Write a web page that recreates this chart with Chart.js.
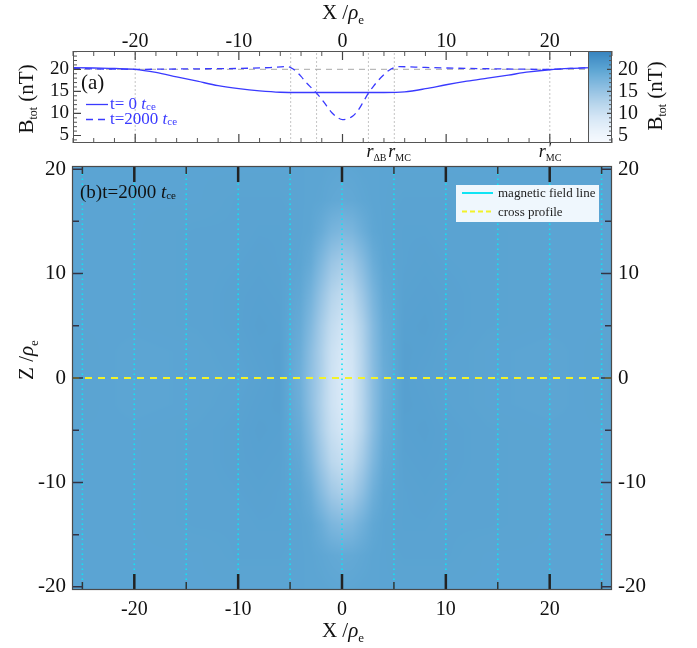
<!DOCTYPE html>
<html><head><meta charset="utf-8">
<script src="https://cdn.jsdelivr.net/npm/chart.js@4.4.1/dist/chart.umd.min.js"></script>
<style>
html,body{margin:0;padding:0;background:#fff;}
#wrap{position:relative;width:697px;height:648px;overflow:hidden;}
canvas{position:absolute;left:0;top:0;}
</style></head><body>
<div id="wrap"><canvas id="c2" width="697" height="648"></canvas><canvas id="c1" width="697" height="648"></canvas></div>
<script>
// ---------------- DATA ----------------
const xTickLabels = [-20, -10, 0, 10, 20];
const bTickLabels = [5, 10, 15, 20];
const zTickLabels = [-20, -10, 0, 10, 20];

// panel (a): |B| profile along the cross line at t = 0
const t0X = [-26, -24, -22, -20, -18, -16, -14, -12, -10, -8, -6, -4, -2, 0, 2, 4, 6, 8, 10, 12, 14, 16, 18, 20, 22, 24];
const t0B = [20.4, 20.3, 20.2, 20.0, 19.3, 18.3, 17.3, 16.3, 15.6, 15.1, 14.8, 14.75, 14.75, 14.75, 14.75, 14.75, 14.9, 15.6, 16.5, 17.3, 18.0, 18.7, 19.4, 19.9, 20.2, 20.4];
// panel (a): |B| profile at t = 2000
const t2kX = [-26, -24, -22, -20, -15, -10, -7, -5.5, -5, -4.5, -4, -3.5, -3, -2.5, -2, -1.5, -1, -0.5, 0, 0.5, 1, 1.5, 2, 2.5, 3, 3.5, 4, 4.5, 5, 5.5, 7, 10, 15, 20, 22, 24];
const t2kB = [20.2, 20.1, 20.05, 20.0, 20.1, 20.2, 20.4, 20.6, 20.4, 19.6, 18.4, 17.0, 15.8, 14.6, 13.2, 11.6, 10.1, 9.1, 8.6, 8.8, 9.4, 10.7, 12.6, 14.6, 16.2, 17.6, 18.8, 19.8, 20.4, 20.6, 20.5, 20.3, 20.1, 20.0, 20.2, 20.4];
const refB = 20;                                   // reference level
const markerX = [-20, -5, -2.5, 2.5, 5, 20];      // r'MC, rMC, rΔB positions

// panel (b): field lines and cross profile
const fieldLineX = [-25, -20, -15, -10, -5, 0, 5, 10, 15, 20, 25];
const crossZ = 0;

// panel (b): |B| map (rows = hmZ, columns = hmX)
const hmX = [-26, -20, -14, -10, -8, -6, -4, -3, -2, -1, 0, 1, 2, 3, 4, 6, 8, 10, 14, 20, 26];
const hmZ = [-20, -17, -14, -11, -8, -5, -2.5, 0, 2.5, 5, 8, 11, 14, 17, 20];
const hmB = [
 [20.1,20.1,20.1,20.1,20.1,20.1,20.1,20.0,20.0,19.9,19.8,19.9,20.0,20.0,20.1,20.1,20.1,20.1,20.1,20.1,20.1],
 [20.1,20.1,20.1,20.2,20.2,20.2,20.1,20.0,19.8,19.5,19.3,19.4,19.7,20.0,20.1,20.2,20.2,20.2,20.1,20.1,20.1],
 [20.1,20.1,20.2,20.2,20.3,20.3,20.1,19.8,18.8,17.4,16.8,17.2,18.4,19.6,20.1,20.3,20.3,20.2,20.2,20.1,20.1],
 [20.1,20.1,20.2,20.3,20.4,20.3,19.9,18.9,16.6,14.4,13.4,14.0,16.0,18.5,19.9,20.3,20.4,20.3,20.2,20.1,20.1],
 [20.1,20.1,20.2,20.4,20.5,20.4,19.5,17.6,14.7,12.0,10.9,11.6,14.1,17.2,19.5,20.4,20.5,20.4,20.2,20.1,20.1],
 [20.1,20.1,20.2,20.4,20.6,20.5,19.0,16.6,13.4,10.6, 9.3,10.0,12.7,16.3,19.1,20.5,20.6,20.4,20.2,20.1,20.1],
 [20.2,20.0,20.1,20.3,20.5,20.6,18.6,15.9,13.0,10.0, 8.7, 9.4,12.5,16.1,18.9,20.6,20.5,20.3,20.1,20.0,20.2],
 [20.2,20.0,20.1,20.2,20.4,20.6,18.4,15.8,13.2,10.0, 8.6, 9.4,12.6,16.2,18.8,20.6,20.4,20.3,20.1,20.0,20.2],
 [20.2,20.0,20.1,20.3,20.5,20.6,18.7,16.1,13.3,10.3, 9.0, 9.7,12.8,16.4,19.0,20.6,20.5,20.3,20.1,20.0,20.2],
 [20.1,20.1,20.2,20.4,20.6,20.5,19.1,16.9,13.9,11.2, 9.8,10.5,13.2,16.7,19.2,20.5,20.6,20.4,20.2,20.1,20.1],
 [20.1,20.1,20.2,20.4,20.5,20.4,19.6,18.0,15.3,12.7,11.5,12.1,14.7,17.6,19.6,20.4,20.5,20.4,20.2,20.1,20.1],
 [20.1,20.1,20.2,20.3,20.4,20.3,20.0,19.2,17.1,14.9,13.9,14.5,16.5,18.8,20.0,20.3,20.4,20.3,20.2,20.1,20.1],
 [20.1,20.1,20.2,20.2,20.3,20.3,20.1,19.9,19.0,17.7,17.1,17.5,18.7,19.8,20.1,20.3,20.3,20.2,20.2,20.1,20.1],
 [20.1,20.1,20.1,20.2,20.2,20.2,20.1,20.0,19.9,19.6,19.4,19.5,19.8,20.0,20.1,20.2,20.2,20.2,20.1,20.1,20.1],
 [20.1,20.1,20.1,20.1,20.1,20.1,20.1,20.0,20.0,19.9,19.8,19.9,20.0,20.0,20.1,20.1,20.1,20.1,20.1,20.1,20.1]
];

// ---------------- STYLE ----------------
const SERIF = '"Liberation Serif","Times New Roman",serif';
const BLUE = '#3a3aff';
const X_MIN = -26, X_MAX = 26, B_MIN = 3.3, B_MAX = 24.15, Z_MIN = -20.3, Z_MAX = 20.3;
const cmapStops = [[3.3,[248,251,255]],[6,[234,243,251]],[9,[214,231,246]],[12,[186,215,237]],[15,[152,196,228]],[18,[116,178,219]],[20,[92,165,211]],[22,[74,149,202]],[24.2,[54,130,190]]];
function cmap(v){
  if (v <= cmapStops[0][0]) return cmapStops[0][1];
  for (let i = 0; i < cmapStops.length - 1; i++){
    const a = cmapStops[i], b = cmapStops[i+1];
    if (v <= b[0]){ const t = (v - a[0]) / (b[0] - a[0]); return [0,1,2].map(k => a[1][k] + t*(b[1][k]-a[1][k])); }
  }
  return cmapStops[cmapStops.length-1][1];
}
function locate(arr, v){
  if (v <= arr[0]) return [0, 0];
  if (v >= arr[arr.length-1]) return [arr.length-2, 1];
  let i = 0; while (arr[i+1] < v) i++;
  return [i, (v - arr[i]) / (arr[i+1] - arr[i])];
}
function fixedTicks(vals){ return s => { s.ticks = vals.map(v => ({value: v})); }; }
function rich(ctx, segs, x, y, align, rot){
  ctx.save(); ctx.translate(x, y); if (rot) ctx.rotate(rot);
  let w = 0; segs.forEach(s => { ctx.font = s.f; s.w = ctx.measureText(s.t).width; if (!s.noAdv) w += s.w; });
  let cx = align === 'center' ? -w/2 : align === 'right' ? -w : 0;
  ctx.textAlign = 'left'; ctx.textBaseline = 'alphabetic';
  segs.forEach(s => { ctx.font = s.f; ctx.fillStyle = s.c || '#111'; ctx.fillText(s.t, cx + (s.dx||0), s.dy || 0); if (!s.noAdv) cx += s.w; });
  ctx.restore();
}
function ticks(ctx, a, scale, vals, len, width, color, sides){
  ctx.save(); ctx.strokeStyle = color; ctx.lineWidth = width; ctx.beginPath();
  vals.forEach(v => {
    const p = scale.getPixelForValue(v);
    sides.forEach(sd => {
      if (sd === 'top'){ ctx.moveTo(p, a.top); ctx.lineTo(p, a.top + len); }
      if (sd === 'bottom'){ ctx.moveTo(p, a.bottom); ctx.lineTo(p, a.bottom - len); }
      if (sd === 'left'){ ctx.moveTo(a.left, p); ctx.lineTo(a.left + len, p); }
      if (sd === 'right'){ ctx.moveTo(a.right, p); ctx.lineTo(a.right - len, p); }
    });
  });
  ctx.stroke(); ctx.restore();
}
const rng = (a, b, s) => { const r = []; for (let v = a; v <= b + 1e-9; v += s) r.push(Math.round(v*100)/100); return r; };

// ---------------- TOP CHART (a) ----------------
const topPlugin = {
  id: 'topDeco',
  afterDatasetsDraw(chart){
    const {ctx, chartArea: a, scales: {x, y}} = chart;
    // ticks
    const xMinor = rng(-26, 26, 2).filter(v => v % 10 !== 0);
    ticks(ctx, a, x, xMinor, 5, 1, '#555', ['top','bottom']);
    ticks(ctx, a, x, xTickLabels, 9, 1.2, '#444', ['top','bottom']);
    const yMinor = rng(4, 24, 1).filter(v => v % 5 !== 0);
    ticks(ctx, a, y, yMinor, 4, 1, '#555', ['left']);
    ticks(ctx, a, y, bTickLabels, 8, 1.2, '#444', ['left']);
    // colorbar
    const cbL = a.right - 24;
    for (let py = Math.floor(a.top); py < a.bottom; py++){
      const c = cmap(y.getValueForPixel(py + 0.5));
      ctx.fillStyle = `rgb(${c[0]|0},${c[1]|0},${c[2]|0})`;
      ctx.fillRect(cbL, py, a.right - cbL, 1);
    }
    const cbA = {left: cbL, right: a.right, top: a.top, bottom: a.bottom};
    ticks(ctx, cbA, y, yMinor, 3, 1, '#555', ['right']);
    ticks(ctx, cbA, y, bTickLabels, 5, 1.2, '#444', ['right']);
    ctx.save(); ctx.strokeStyle = '#555'; ctx.lineWidth = 1;
    ctx.strokeRect(cbL + 0.5, a.top + 0.5, a.right - cbL - 1, a.bottom - a.top - 1);
    ctx.strokeRect(a.left + 0.5, a.top + 0.5, a.right - a.left - 1, a.bottom - a.top - 1);
    ctx.restore();
    // legend
    const ds = chart.data.datasets;
    rich(ctx, [{t:'(a)', f:`21px ${SERIF}`}], 81, 89, 'left');
    [[0, 104.5, 109], [1, 119.5, 124]].forEach(([i, ly, by]) => {
      ctx.save(); ctx.strokeStyle = ds[i].borderColor; ctx.lineWidth = 1.3; ctx.setLineDash(ds[i].borderDash || []);
      ctx.beginPath(); ctx.moveTo(86, ly); ctx.lineTo(108, ly); ctx.stroke(); ctx.restore();
      rich(ctx, [{t: ds[i].label + ' ', f:`17px ${SERIF}`, c: BLUE}, {t:'t', f:`italic 17px ${SERIF}`, c: BLUE}, {t:'ce', f:`11px ${SERIF}`, c: BLUE, dy: 1}], 110, by, 'left');
    });
    // title and axis labels
    rich(ctx, [{t:'X /', f:`21px ${SERIF}`}, {t:'ρ', f:`italic 21px ${SERIF}`}, {t:'e', f:`13px ${SERIF}`, dy: 5}], 343, 19, 'center');
    rich(ctx, [{t:'B', f:`21px ${SERIF}`}, {t:'tot', f:`12px ${SERIF}`, dy: 4}, {t:' (nT)', f:`21px ${SERIF}`}], 33, 99, 'center', -Math.PI/2);
    rich(ctx, [{t:'B', f:`21px ${SERIF}`}, {t:'tot', f:`12px ${SERIF}`, dy: 4}, {t:' (nT)', f:`21px ${SERIF}`}], 662, 96, 'center', -Math.PI/2);
    // r labels
    const lbY = 157;
    rich(ctx, [{t:'r', f:`italic 18px ${SERIF}`}, {t:'ΔB', f:`10px ${SERIF}`, dy: 4}], x.getPixelForValue(markerX[3]) - 2, lbY, 'left');
    rich(ctx, [{t:'r', f:`italic 18px ${SERIF}`}, {t:'MC', f:`10px ${SERIF}`, dy: 4}], x.getPixelForValue(markerX[4]) - 6, lbY, 'left');
    rich(ctx, [{t:'r', f:`italic 18px ${SERIF}`}, {t:"'", f:`italic 15px ${SERIF}`, dy: -4, noAdv: true, dx: 2}, {t:'MC', f:`10px ${SERIF}`, dy: 4}], x.getPixelForValue(markerX[5]) - 11, lbY, 'left');
  }
};

new Chart(document.getElementById('c1'), {
  type: 'line',
  data: { datasets: [
    {label: 't= 0', data: t0X.map((v, i) => ({x: v, y: t0B[i]})), borderColor: BLUE, borderWidth: 1.3, pointRadius: 0, cubicInterpolationMode: 'monotone', fill: false},
    {label: 't=2000', data: t2kX.map((v, i) => ({x: v, y: t2kB[i]})), borderColor: BLUE, borderWidth: 1.3, borderDash: [7, 5], pointRadius: 0, cubicInterpolationMode: 'monotone', fill: false},
    {label: 'ref', data: [{x: X_MIN, y: refB}, {x: X_MAX, y: refB}], borderColor: '#a8a8a8', borderWidth: 1, borderDash: [6, 5], pointRadius: 0},
    {label: 'markers', data: markerX.flatMap(v => [{x: v, y: B_MIN}, {x: v, y: B_MAX}, {x: v, y: null}]), borderColor: '#c4c4c4', borderWidth: 1, borderDash: [2, 2], pointRadius: 0, spanGaps: false}
  ]},
  options: {
    responsive: false, animation: false, devicePixelRatio: 1, events: [],
    layout: {padding: {left: 0, right: 0, top: 0, bottom: 505}},
    plugins: {legend: {display: false}, tooltip: {enabled: false}},
    scales: {
      x: {type: 'linear', position: 'top', min: X_MIN, max: X_MAX, afterBuildTicks: fixedTicks(xTickLabels), afterFit: s => { s.height = 51; },
          grid: {display: false, drawTicks: false}, border: {display: false},
          ticks: {font: {family: SERIF, size: 20}, color: '#111', padding: -3, maxRotation: 0, autoSkip: false}},
      y: {type: 'linear', position: 'left', min: B_MIN, max: B_MAX, afterBuildTicks: fixedTicks(bTickLabels), afterFit: s => { s.width = 73; },
          grid: {display: false, drawTicks: false}, border: {display: false},
          ticks: {font: {family: SERIF, size: 19}, color: '#111', padding: 4, autoSkip: false}},
      yc: {type: 'linear', position: 'right', min: B_MIN, max: B_MAX, afterBuildTicks: fixedTicks(bTickLabels), afterFit: s => { s.width = 85; },
          grid: {display: false, drawTicks: false}, border: {display: false},
          ticks: {font: {family: SERIF, size: 20}, color: '#111', padding: 6, autoSkip: false}}
    }
  },
  plugins: [topPlugin]
});

// ---------------- BOTTOM CHART (b) ----------------
const botPlugin = {
  id: 'botDeco',
  beforeDatasetsDraw(chart){
    const {ctx, chartArea: a, scales: {x, y}} = chart;
    const L = Math.round(a.left), T = Math.round(a.top);
    const w = Math.round(a.right) - L, h = Math.round(a.bottom) - T;
    const off = document.createElement('canvas'); off.width = w; off.height = h;
    const octx = off.getContext('2d'); const img = octx.createImageData(w, h);
    const colLoc = []; for (let i = 0; i < w; i++) colLoc.push(locate(hmX, x.getValueForPixel(L + i + 0.5)));
    for (let j = 0; j < h; j++){
      const [zi, zt] = locate(hmZ, y.getValueForPixel(T + j + 0.5));
      const r0 = hmB[zi], r1 = hmB[zi+1];
      for (let i = 0; i < w; i++){
        const [xi, xt] = colLoc[i];
        const v0 = r0[xi] + xt * (r0[xi+1] - r0[xi]);
        const v1 = r1[xi] + xt * (r1[xi+1] - r1[xi]);
        const c = cmap(v0 + zt * (v1 - v0));
        const k = (j * w + i) * 4;
        img.data[k] = c[0]; img.data[k+1] = c[1]; img.data[k+2] = c[2]; img.data[k+3] = 255;
      }
    }
    octx.putImageData(img, 0, 0);
    ctx.drawImage(off, L, T);
  },
  afterDatasetsDraw(chart){
    const {ctx, chartArea: a, scales: {x, y}} = chart;
    ticks(ctx, a, x, [-25, -15, -5, 5, 15, 25], 8, 1.5, '#333', ['top','bottom']);
    ticks(ctx, a, x, xTickLabels, 16, 2.5, '#222', ['top','bottom']);
    ticks(ctx, a, y, [-15, -5, 5, 15], 7, 1.5, '#334', ['left','right']);
    ticks(ctx, a, y, zTickLabels, 11, 1.5, '#334', ['left','right']);
    ctx.save(); ctx.strokeStyle = '#4a4a4a'; ctx.lineWidth = 1.2;
    ctx.strokeRect(a.left + 0.5, a.top + 0.5, a.right - a.left - 1, a.bottom - a.top - 1); ctx.restore();
    // panel label
    rich(ctx, [{t:'(b)t=2000 ', f:`19px ${SERIF}`}, {t:'t', f:`italic 19px ${SERIF}`}, {t:'ce', f:`11px ${SERIF}`, dy: 1}], 80, 198, 'left');
    // legend box
    const ds = chart.data.datasets;
    ctx.save(); ctx.fillStyle = 'rgba(246,250,254,0.96)'; ctx.fillRect(456, 185, 143, 37);
    ctx.lineWidth = 2;
    ctx.strokeStyle = ds[1].borderColor; ctx.beginPath(); ctx.moveTo(462, 193); ctx.lineTo(493, 193); ctx.stroke();
    ctx.strokeStyle = ds[0].borderColor; ctx.setLineDash([5, 3]); ctx.beginPath(); ctx.moveTo(462, 211.5); ctx.lineTo(493, 211.5); ctx.stroke();
    ctx.restore();
    rich(ctx, [{t: ds[1].label, f:`13px ${SERIF}`, c: '#222'}], 498, 197, 'left');
    rich(ctx, [{t: ds[0].label, f:`13px ${SERIF}`, c: '#222'}], 498, 215.5, 'left');
    // titles
    rich(ctx, [{t:'X /', f:`21px ${SERIF}`}, {t:'ρ', f:`italic 21px ${SERIF}`}, {t:'e', f:`13px ${SERIF}`, dy: 5}], 343, 637, 'center');
    rich(ctx, [{t:'Z /', f:`21px ${SERIF}`}, {t:'ρ', f:`italic 21px ${SERIF}`}, {t:'e', f:`13px ${SERIF}`, dy: 5}], 33, 360, 'center', -Math.PI/2);
  }
};

new Chart(document.getElementById('c2'), {
  type: 'line',
  data: { datasets: [
    {label: 'cross profile', data: [{x: X_MIN, y: crossZ}, {x: X_MAX, y: crossZ}], borderColor: '#f2f22a', borderWidth: 2, borderDash: [7, 6], pointRadius: 0},
    {label: 'magnetic field line', data: fieldLineX.flatMap(v => [{x: v, y: Z_MIN}, {x: v, y: Z_MAX}, {x: v, y: null}]), borderColor: '#10e4f4', borderWidth: 1.6, borderDash: [1.6, 3.4], pointRadius: 0, spanGaps: false}
  ]},
  options: {
    responsive: false, animation: false, devicePixelRatio: 1, events: [],
    layout: {padding: {left: 0, right: 0, top: 166, bottom: 0}},
    plugins: {legend: {display: false}, tooltip: {enabled: false}},
    scales: {
      x: {type: 'linear', position: 'bottom', min: X_MIN, max: X_MAX, afterBuildTicks: fixedTicks(xTickLabels), afterFit: s => { s.height = 58; },
          grid: {display: false, drawTicks: false}, border: {display: false},
          ticks: {font: {family: SERIF, size: 20}, color: '#111', padding: 8, maxRotation: 0, autoSkip: false}},
      y: {type: 'linear', position: 'left', min: Z_MIN, max: Z_MAX, afterBuildTicks: fixedTicks(zTickLabels), afterFit: s => { s.width = 72; },
          grid: {display: false, drawTicks: false}, border: {display: false},
          ticks: {font: {family: SERIF, size: 21}, color: '#111', padding: 6, autoSkip: false}},
      yr: {type: 'linear', position: 'right', min: Z_MIN, max: Z_MAX, afterBuildTicks: fixedTicks(zTickLabels), afterFit: s => { s.width = 85; },
          grid: {display: false, drawTicks: false}, border: {display: false},
          ticks: {font: {family: SERIF, size: 21}, color: '#111', padding: 6, autoSkip: false}}
    }
  },
  plugins: [botPlugin]
});
</script>
</body></html>
